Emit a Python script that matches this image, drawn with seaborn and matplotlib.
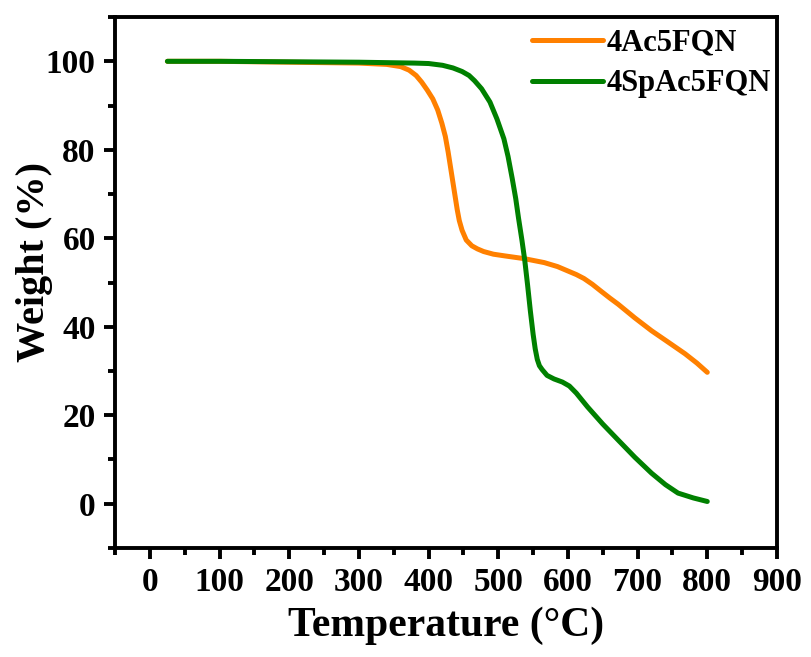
import numpy as np
import pandas as pd
import matplotlib
matplotlib.use("Agg")
import matplotlib.pyplot as plt
import seaborn as sns
from matplotlib.ticker import MultipleLocator

# TGA curves: temperature (°C) vs. residual weight (%)
temp_4ac = [25, 100, 200, 300, 340, 360, 372, 382, 390, 398, 406, 413, 419, 424, 428, 432, 435, 438, 441,
            444, 448, 454, 462, 470, 479, 493, 510, 537, 566, 585, 600, 612, 623, 635, 647, 660, 672, 696,
            720, 745, 768, 785, 800]
weight_4ac = [100.0, 100.0, 99.8, 99.6, 99.3, 98.8, 98.0, 96.8, 95.3, 93.5, 91.5, 89.0, 86.0, 83.0, 79.5,
              75.5, 72.5, 69.5, 66.5, 64.0, 61.8, 59.6, 58.3, 57.6, 57.0, 56.4, 56.0, 55.4, 54.5, 53.6, 52.6,
              51.8, 50.9, 49.6, 48.1, 46.5, 45.1, 42.0, 39.1, 36.4, 33.9, 31.8, 29.7]

temp_4sp = [25, 100, 200, 300, 380, 400, 420, 435, 448, 458, 466, 476, 488, 498, 508, 514, 520, 525, 529,
            534, 538, 542, 546, 550, 553, 556, 559, 563, 570, 580, 592, 602, 612, 628, 650, 672, 696, 720,
            740, 758, 780, 800]
weight_4sp = [100.0, 100.0, 99.9, 99.8, 99.6, 99.5, 99.1, 98.5, 97.7, 96.8, 95.6, 93.8, 90.8, 87.0, 82.5,
              78.5, 73.5, 69.0, 64.6, 59.5, 55.0, 49.5, 43.6, 38.3, 35.0, 32.6, 31.2, 30.3, 29.0, 28.2, 27.5,
              26.6, 25.0, 21.9, 18.0, 14.4, 10.5, 6.9, 4.3, 2.4, 1.3, 0.5]

series_names = ["4Ac5FQN", "4SpAc5FQN"]
series_colors = ["#FF8000", "#008000"]

df = pd.concat([
    pd.DataFrame({"Temperature": temp_4ac, "Weight": weight_4ac, "Sample": series_names[0]}),
    pd.DataFrame({"Temperature": temp_4sp, "Weight": weight_4sp, "Sample": series_names[1]}),
], ignore_index=True)

sns.set_style("ticks", {"axes.edgecolor": "black", "xtick.color": "black", "ytick.color": "black",
                        "text.color": "black", "axes.labelcolor": "black"})
plt.rcParams["font.family"] = ["Liberation Serif", "DejaVu Serif"]
plt.rcParams["font.weight"] = "bold"
plt.rcParams["axes.labelweight"] = "bold"

fig = plt.figure(figsize=(8.11, 6.57), dpi=100)
ax = fig.add_axes([0.142, 0.166, 0.816, 0.808])

sns.lineplot(data=df, x="Temperature", y="Weight", hue="Sample", palette=series_colors,
             linewidth=3.6, sort=False, ax=ax, legend=True)
for ln in ax.get_lines():
    ln.set_solid_joinstyle("round")
    ln.set_solid_capstyle("round")

ax.set_xlim(-50, 900)
ax.set_ylim(-10, 110)
ax.xaxis.set_minor_locator(MultipleLocator(50))
ax.yaxis.set_minor_locator(MultipleLocator(10))
ax.set_xticks(range(0, 901, 100))
ax.set_yticks(range(0, 101, 20))

ax.tick_params(which="major", direction="out", length=8, width=2.8, labelsize=24, pad=6,
               color="black", labelcolor="black")
ax.tick_params(which="minor", direction="out", length=5, width=2.8, color="black")
for lbl in ax.get_xticklabels() + ax.get_yticklabels():
    lbl.set_fontweight("bold")
for side in ["left", "right", "top", "bottom"]:
    ax.spines[side].set_linewidth(2.8)
    ax.spines[side].set_color("black")

ax.set_xlabel("Temperature (°C)", fontsize=30, fontweight="bold", labelpad=6)
ax.set_ylabel("Weight (%)", fontsize=29, fontweight="bold")
ax.yaxis.set_label_coords(-0.094, 0.539)

leg = ax.legend(loc="upper right", bbox_to_anchor=(1.01, 1.002), frameon=False, handlelength=2.3,
                handletextpad=0.15, borderaxespad=0.0, labelspacing=0.4,
                prop={"weight": "bold", "size": 22})
for line in leg.get_lines():
    line.set_linewidth(3.6)

fig.savefig("out.png", dpi=100)
